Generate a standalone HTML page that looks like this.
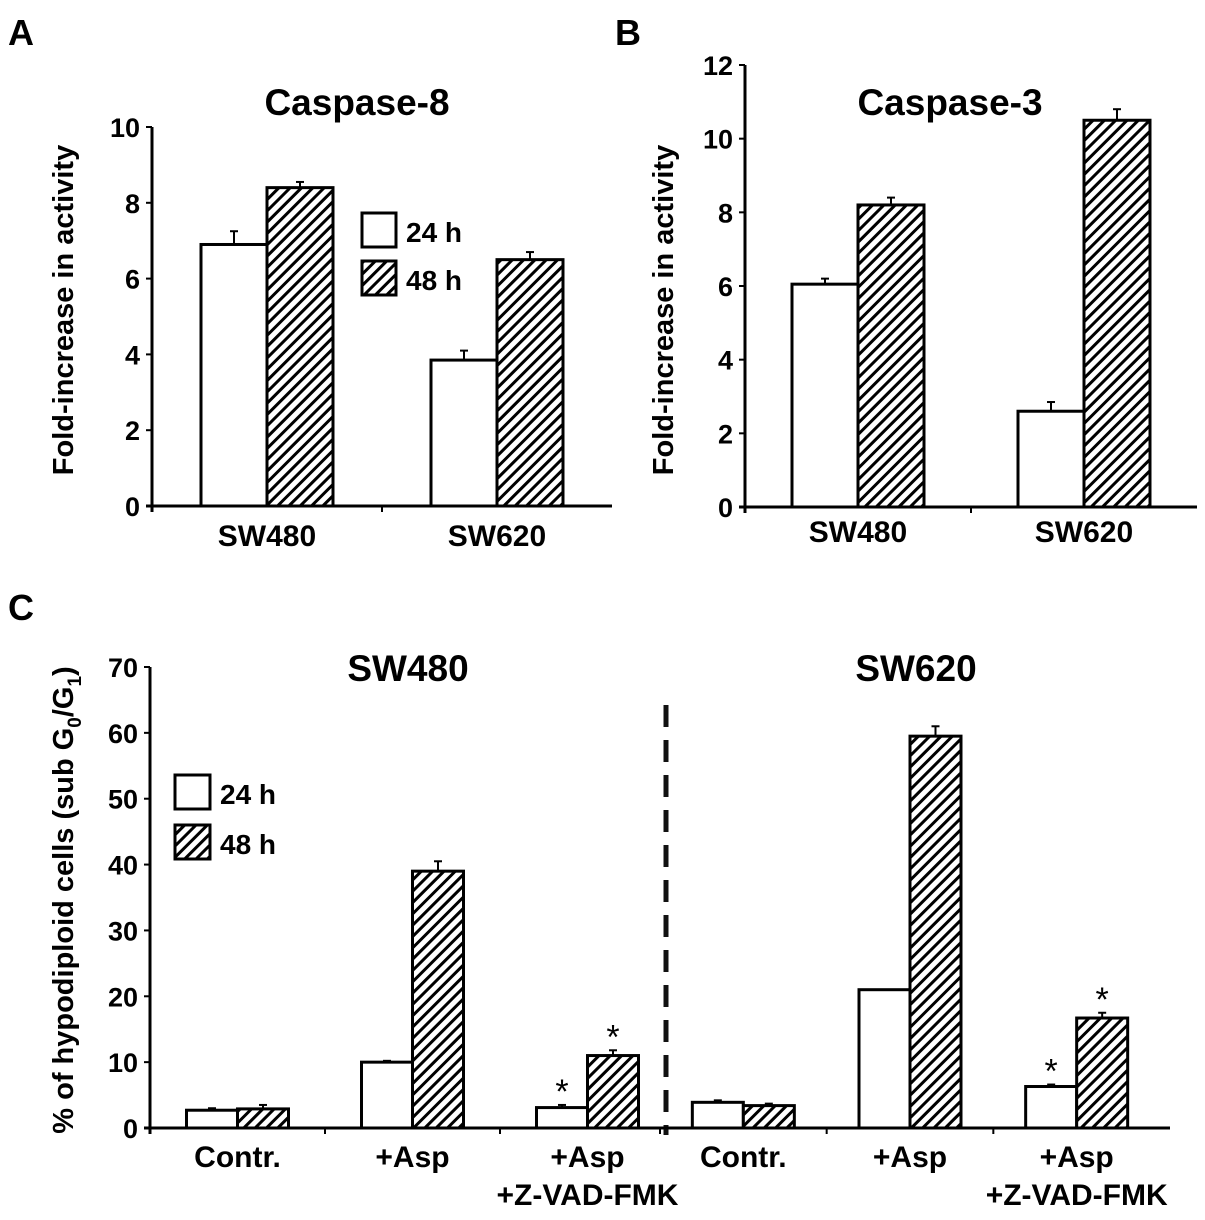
<!DOCTYPE html>
<html><head><meta charset="utf-8"><style>
body{margin:0;background:#fff}
svg{display:block;font-family:"Liberation Sans",Arial,sans-serif;font-weight:bold}
</style></head><body>
<svg id="fig" width="1205" height="1220" viewBox="0 0 1205 1220">
<defs>
<pattern id="hatch" patternUnits="userSpaceOnUse" width="8" height="8" patternTransform="rotate(45)">
<rect width="8" height="8" fill="#fff"/>
<line x1="2" y1="0" x2="2" y2="8" stroke="#000" stroke-width="3"/>
</pattern>
</defs>
<text x="8" y="45" font-size="36">A</text>
<text x="615" y="45" font-size="36">B</text>
<text x="8" y="620" font-size="36">C</text>
<text x="357" y="115" font-size="37" text-anchor="middle">Caspase-8</text>
<text x="950" y="115" font-size="37" text-anchor="middle">Caspase-3</text>
<text x="408" y="681" font-size="37" text-anchor="middle">SW480</text>
<text x="916" y="681" font-size="37" text-anchor="middle">SW620</text>
<text transform="translate(73,310) rotate(-90)" font-size="29" text-anchor="middle">Fold-increase in activity</text>
<text transform="translate(673,310) rotate(-90)" font-size="29" text-anchor="middle">Fold-increase in activity</text>
<text transform="translate(73,900) rotate(-90)" font-size="29" text-anchor="middle">% of hypodiploid cells (sub G<tspan font-size="19" dy="8">0</tspan><tspan dy="-8">/G</tspan><tspan font-size="19" dy="8">1</tspan><tspan dy="-8">)</tspan></text>
<line x1="666" y1="705" x2="666" y2="1135" stroke="#111" stroke-width="5" stroke-dasharray="22,13"/>
<g id="ga"></g><g id="gb"></g><g id="gc"></g>
</svg>
<script>
// Panel A
const catsA = ["SW480", "SW620"];
const a24 = [6.9, 3.85];
const a48 = [8.4, 6.5];
const a24err = [0.35, 0.25];
const a48err = [0.15, 0.2];
const ticksA = [0, 2, 4, 6, 8, 10];
// Panel B
const catsB = ["SW480", "SW620"];
const b24 = [6.05, 2.6];
const b48 = [8.2, 10.5];
const b24err = [0.15, 0.25];
const b48err = [0.2, 0.3];
const ticksB = [0, 2, 4, 6, 8, 10, 12];
// Panel C
const catsC = ["Contr.", "+Asp", "+Asp|+Z-VAD-FMK", "Contr.", "+Asp", "+Asp|+Z-VAD-FMK"];
const c24 = [2.7, 10, 3.1, 3.9, 21, 6.3];
const c48 = [2.9, 39, 11, 3.4, 59.5, 16.7];
const c24err = [0.3, 0.2, 0.4, 0.3, 0, 0.3];
const c48err = [0.6, 1.5, 0.8, 0.3, 1.5, 0.8];
const starC = [false, false, true, false, false, true];
const ticksC = [0, 10, 20, 30, 40, 50, 60, 70];

const NS = "http://www.w3.org/2000/svg";
function mk(parent, tag, attrs) {
  const e = document.createElementNS(NS, tag);
  for (const k in attrs) e.setAttribute(k, attrs[k]);
  parent.appendChild(e);
  return e;
}
function panel(g, cfg) {
  const y = v => cfg.y0 - v / cfg.ymax * (cfg.y0 - cfg.ytop);
  const n = cfg.cats.length;
  const groups = cfg.groups || [[cfg.x0, cfg.x1, n]];
  const xc = i => {
    let k = i;
    for (const [a, b, c] of groups) {
      if (k < c) return a + (b - a) / c * (k + 0.5);
      k -= c;
    }
  };
  const boundaries = [];
  groups.forEach(([a, b, c], gi) => {
    for (let j = (gi === 0 ? 1 : 0); j < c; j++) boundaries.push(a + (b - a) / c * j);
  });
  const ya = mk(g, "line", {x1: cfg.x0, y1: cfg.ytop, x2: cfg.x0, y2: cfg.y0 + 6, stroke: "#000", "stroke-width": 3});
  
  
  const xa = mk(g, "line", {x1: cfg.x0 - 6, y1: cfg.y0, x2: cfg.x1, y2: cfg.y0, stroke: "#000", "stroke-width": 3});
  
  
  cfg.ticks.forEach(t => {
    const tk = mk(g, "line", {x1: cfg.x0 - 6, y1: y(t), x2: cfg.x0, y2: y(t), stroke: "#000", "stroke-width": 2});
    
    
    const tl = mk(g, "text", {x: cfg.x0 - 12, y: y(t) + 10, "font-size": 27, "text-anchor": "end"});
    tl.textContent = t;
    
    
  });
  boundaries.forEach(bx => {
    const xt = mk(g, "line", {x1: bx, y1: cfg.y0, x2: bx, y2: cfg.y0 + 6, stroke: "#000", "stroke-width": 2});
    
    
  });
  cfg.cats.forEach((c, i) => {
    const lines = c.split("|");
    lines.forEach((ln, j) => {
      const t = mk(g, "text", {x: xc(i), y: cfg.labY + j * 38, "font-size": 30, "text-anchor": "middle"});
      t.textContent = ln;
      
      
    });
    [[cfg.s24, cfg.e24, "#fff", -1], [cfg.s48, cfg.e48, "url(#hatch)", 0]].forEach(([s, e, fill, off]) => {
      const bx = xc(i) + off * cfg.bw;
      const v = s[i];
      const top = y(v + e[i]);
      const el = mk(g, "line", {x1: bx + cfg.bw / 2, y1: y(v), x2: bx + cfg.bw / 2, y2: top, stroke: "#000", "stroke-width": 2});
      
      
      const ec = mk(g, "line", {x1: bx + cfg.bw / 2 - 4, y1: top, x2: bx + cfg.bw / 2 + 4, y2: top, stroke: "#000", "stroke-width": 2});
      
      
      const r = mk(g, "rect", {x: bx, y: y(v), width: cfg.bw, height: cfg.y0 - y(v), fill: fill, stroke: "#000", "stroke-width": 3});
      
      
      if (cfg.stars && cfg.stars[i]) {
        const st = mk(g, "text", {x: bx + cfg.bw / 2, y: top - 2, "font-size": 34, "font-weight": "normal", "text-anchor": "middle"});
        st.textContent = "*";
        
        
      }
    });
  });
  if (cfg.leg) {
    const [lx, ly, lw, lh, gap] = cfg.leg;
    [["#fff", "24 h"], ["url(#hatch)", "48 h"]].forEach(([f, txt], k) => {
      const r = mk(g, "rect", {x: lx, y: ly + k * gap, width: lw, height: lh, fill: f, stroke: "#000", "stroke-width": 3});
      
      
      const t = mk(g, "text", {x: lx + lw + 10, y: ly + k * gap + lh - 5, "font-size": 28});
      t.textContent = txt;
      
      
    });
  }
}
panel(document.getElementById("ga"), {cats: catsA, s24: a24, s48: a48, e24: a24err, e48: a48err, ticks: ticksA,
  x0: 152, x1: 612, y0: 506, ytop: 127, ymax: 10, bw: 66, labY: 546, leg: [362, 213, 34, 34, 48]});
panel(document.getElementById("gb"), {cats: catsB, s24: b24, s48: b48, e24: b24err, e48: b48err, ticks: ticksB,
  x0: 745, x1: 1197, y0: 507, ytop: 65, ymax: 12, bw: 66, labY: 542});
panel(document.getElementById("gc"), {cats: catsC, s24: c24, s48: c48, e24: c24err, e48: c48err, ticks: ticksC, stars: starC,
  x0: 150, x1: 1170, y0: 1128, ytop: 667, ymax: 70, bw: 51, labY: 1167, leg: [175, 775, 35, 34, 50],
  groups: [[150, 675, 3], [660, 1160, 3]]});
</script>
</body></html>
